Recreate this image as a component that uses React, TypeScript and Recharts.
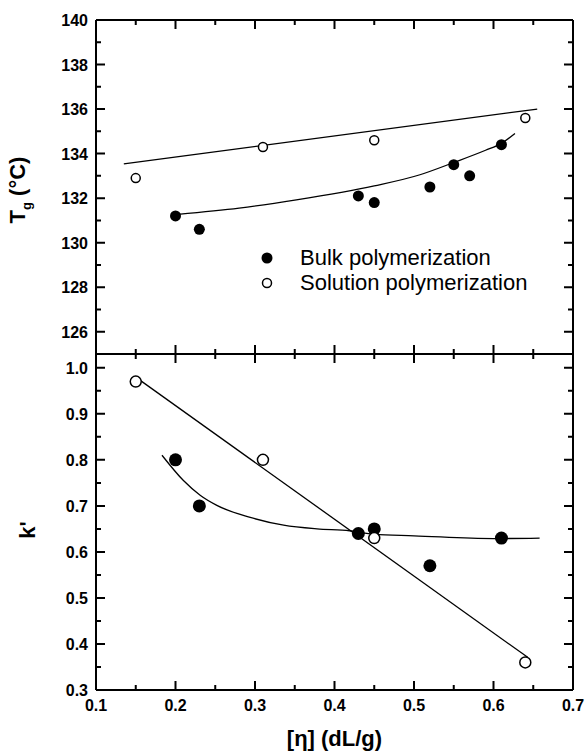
import React from 'react';
import { ComposedChart, Line, Scatter, XAxis, YAxis, Legend, ReferenceLine } from 'recharts';

const FONT = '"Liberation Sans", Arial, Helvetica, sans-serif';

// measured points, [η] in dL/g
const bulkEta = [0.2, 0.23, 0.43, 0.45, 0.52, 0.55, 0.57, 0.61];
const bulkTg = [131.2, 130.6, 132.1, 131.8, 132.5, 133.5, 133.0, 134.4];
const solEta = [0.15, 0.31, 0.45, 0.64];
const solTg = [132.9, 134.3, 134.6, 135.6];

const bulkKEta = [0.2, 0.23, 0.43, 0.45, 0.52, 0.61];
const bulkK = [0.8, 0.7, 0.64, 0.65, 0.57, 0.63];
const solK = [0.97, 0.8, 0.63, 0.36];

// fitted curves
const tgBulkFitEta = [0.203, 0.28, 0.352, 0.45, 0.5075, 0.55, 0.59, 0.61, 0.627];
const tgBulkFitTg = [131.27, 131.55, 131.92, 132.55, 133.05, 133.6, 134.15, 134.46, 134.9];
const tgSolFitEta = [0.135, 0.655];
const tgSolFitTg = [133.54, 136.0];

const kBulkFitEta = [0.183, 0.21, 0.231, 0.252, 0.294, 0.336, 0.378, 0.419, 0.45, 0.5, 0.6, 0.658];
const kBulkFitK = [0.81, 0.755, 0.723, 0.701, 0.675, 0.658, 0.65, 0.646, 0.638, 0.635, 0.629, 0.63];
const kSolFitEta = [0.153, 0.643];
const kSolFitK = [0.976, 0.371];

// ticks
const etaMajor = [0.1, 0.2, 0.3, 0.4, 0.5, 0.6, 0.7];
const etaMinor = [0.15, 0.25, 0.35, 0.45, 0.55, 0.65];
const tgMajor = [126, 128, 130, 132, 134, 136, 138, 140];
const tgMinor = [127, 129, 131, 133, 135, 137, 139];
const kMajor = [0.3, 0.4, 0.5, 0.6, 0.7, 0.8, 0.9, 1.0];
const kMinor = [0.35, 0.45, 0.55, 0.65, 0.75, 0.85, 0.95];

const seriesNames = ['Bulk polymerization', 'Solution polymerization'];

const zip = (xs: number[], ys: number[]) => xs.map((x, i) => ({ x, y: ys[i] }));

const etaDomain = [0.1, 0.7];
const tgDomain = [125, 140];
const kDomain = [0.3, 1.03];

const makeLabel = (side: 'left' | 'bottom', fmt: (v: number) => string) => (props: any) => {
  const x = Number(props.x);
  const y = Number(props.y);
  const v = Number(props.payload.value);
  if (side === 'left') {
    return (
      <text x={x - 8} y={y + 6} textAnchor="end" fontSize={16} fontWeight="bold" fontFamily={FONT} fill="#000">
        {fmt(v)}
      </text>
    );
  }
  return (
    <text x={x} y={y + 21} textAnchor="middle" fontSize={16} fontWeight="bold" fontFamily={FONT} fill="#000">
      {fmt(v)}
    </text>
  );
};

// inward notches at both ends of a reference line (used as axis tick marks)
const notch = (len: number, vertical: boolean) => (p: any) => {
  const x1 = Number(p.x1);
  const y1 = Number(p.y1);
  const x2 = Number(p.x2);
  const y2 = Number(p.y2);
  let d: string;
  if (vertical) {
    const top = Math.min(y1, y2);
    const bot = Math.max(y1, y2);
    d = `M${x1},${top}V${top + len}M${x1},${bot}V${bot - len}`;
  } else {
    const left = Math.min(x1, x2);
    const right = Math.max(x1, x2);
    d = `M${left},${y1}H${left + len}M${right},${y1}H${right - len}`;
  }
  return <path d={d} stroke="#000" strokeWidth={2} fill="none" />;
};

const tickMarks = (yMajor: number[], yMinor: number[]) => [
  ...etaMajor.map((v) => (
    <ReferenceLine key={`xj${v}`} x={v} ifOverflow="visible" stroke="#000" shape={notch(9, true)} />
  )),
  ...etaMinor.map((v) => (
    <ReferenceLine key={`xn${v}`} x={v} ifOverflow="visible" stroke="#000" shape={notch(5, true)} />
  )),
  ...yMajor.map((v) => (
    <ReferenceLine key={`yj${v}`} y={v} ifOverflow="visible" stroke="#000" shape={notch(9, false)} />
  )),
  ...yMinor.map((v) => (
    <ReferenceLine key={`yn${v}`} y={v} ifOverflow="visible" stroke="#000" shape={notch(5, false)} />
  )),
];

const filledDot = (r: number) => (props: any) => <circle cx={props.cx} cy={props.cy} r={r} fill="#000" />;
const openDot = (r: number) => (props: any) => (
  <circle cx={props.cx} cy={props.cy} r={r} fill="#fff" stroke="#000" strokeWidth={1.5} />
);

const TgLabel = (props: any) => {
  const vb = props.viewBox;
  const cx = vb.x + 25;
  const cy = vb.y + vb.height / 2 + 3;
  return (
    <text
      x={cx}
      y={cy}
      transform={`rotate(-90, ${cx}, ${cy})`}
      textAnchor="middle"
      fontSize={22}
      fontWeight="bold"
      fontFamily={FONT}
      fill="#000"
    >
      T
      <tspan dy={6} fontSize={13}>
        g
      </tspan>
      <tspan dy={-6}> (°C)</tspan>
    </text>
  );
};

const KLabel = (props: any) => {
  const vb = props.viewBox;
  const cx = vb.x + 27;
  const cy = vb.y + vb.height / 2 + 8;
  return (
    <text
      x={cx}
      y={cy}
      transform={`rotate(-90, ${cx}, ${cy})`}
      textAnchor="middle"
      dominantBaseline="central"
      fontSize={22}
      fontWeight="bold"
      fontFamily={FONT}
      fill="#000"
    >
      k'
    </text>
  );
};

const EtaLabel = (props: any) => {
  const vb = props.viewBox;
  return (
    <text
      x={vb.x + vb.width / 2}
      y={vb.y + 56}
      textAnchor="middle"
      fontSize={22}
      fontWeight="bold"
      fontFamily={FONT}
      fill="#000"
    >
      [η] (dL/g)
    </text>
  );
};

const LegendBox = () => (
  <div style={{ fontFamily: FONT, fontSize: 22, color: '#000' }}>
    {seriesNames.map((name, i) => (
      <div key={name} style={{ display: 'flex', alignItems: 'center', height: 25 }}>
        <svg width={14} height={14} style={{ marginRight: 26 }}>
          {i === 0 ? (
            <circle cx={7} cy={7} r={5.5} fill="#000" />
          ) : (
            <circle cx={7} cy={7} r={4.5} fill="#fff" stroke="#000" strokeWidth={1.5} />
          )}
        </svg>
        <span style={{ whiteSpace: 'nowrap' }}>{name}</span>
      </div>
    ))}
  </div>
);

const axisLine = { stroke: '#000', strokeWidth: 2 };
const fmtInt = (v: number) => String(Math.round(v));
const fmt1 = (v: number) => v.toFixed(1);

const frameX = {
  type: 'number' as const,
  dataKey: 'x',
  domain: etaDomain,
  allowDataOverflow: true,
  ticks: etaMajor,
  interval: 0 as const,
  tickSize: 0,
  tickMargin: 0,
  tickLine: false,
  axisLine,
};

const frameY = (domain: number[], ticks: number[]) => ({
  type: 'number' as const,
  dataKey: 'y',
  domain,
  allowDataOverflow: true,
  ticks,
  interval: 0 as const,
  tickSize: 0,
  tickMargin: 0,
  tickLine: false,
  axisLine,
});

export default function App() {
  return (
    <div style={{ position: 'absolute', left: 0, top: 0, width: 587, height: 752, background: '#fff' }}>
      <div style={{ position: 'absolute', left: 0, top: 0 }}>
        <ComposedChart width={587} height={360} margin={{ top: 19, right: 13, bottom: 5, left: 0 }}>
          <XAxis {...frameX} xAxisId={0} height={1} tick={false} />
          <XAxis {...frameX} xAxisId="top" orientation="top" height={1} tick={false} />
          <YAxis
            {...frameY(tgDomain, tgMajor)}
            yAxisId={0}
            width={96}
            tick={makeLabel('left', fmtInt)}
            label={<TgLabel />}
          />
          <YAxis {...frameY(tgDomain, tgMajor)} yAxisId="right" orientation="right" width={1} tick={false} />
          {tickMarks(tgMajor, tgMinor)}
          <Line
            data={zip(tgSolFitEta, tgSolFitTg)}
            dataKey="y"
            type="linear"
            stroke="#000"
            strokeWidth={1.3}
            dot={false}
            isAnimationActive={false}
            legendType="none"
          />
          <Line
            data={zip(tgBulkFitEta, tgBulkFitTg)}
            dataKey="y"
            type="monotone"
            stroke="#000"
            strokeWidth={1.3}
            dot={false}
            isAnimationActive={false}
            legendType="none"
          />
          <Scatter
            name={seriesNames[0]}
            data={zip(bulkEta, bulkTg)}
            dataKey="y"
            shape={filledDot(5.5)}
            isAnimationActive={false}
          />
          <Scatter
            name={seriesNames[1]}
            data={zip(solEta, solTg)}
            dataKey="y"
            shape={openDot(4.5)}
            isAnimationActive={false}
          />
          <Legend
            layout="vertical"
            align="center"
            verticalAlign="middle"
            content={<LegendBox />}
            wrapperStyle={{ left: 260, top: 245, width: 'auto', height: 'auto' }}
          />
        </ComposedChart>
      </div>

      <div style={{ position: 'absolute', left: 0, top: 348 }}>
        <ComposedChart width={587} height={404} margin={{ top: 5, right: 13, bottom: 0, left: 0 }}>
          <XAxis {...frameX} xAxisId={0} height={62} tick={makeLabel('bottom', fmt1)} label={<EtaLabel />} />
          <XAxis {...frameX} xAxisId="top" orientation="top" height={1} tick={false} />
          <YAxis
            {...frameY(kDomain, kMajor)}
            yAxisId={0}
            width={96}
            tick={makeLabel('left', fmt1)}
            label={<KLabel />}
          />
          <YAxis {...frameY(kDomain, kMajor)} yAxisId="right" orientation="right" width={1} tick={false} />
          {tickMarks(kMajor, kMinor)}
          <Line
            data={zip(kSolFitEta, kSolFitK)}
            dataKey="y"
            type="linear"
            stroke="#000"
            strokeWidth={1.3}
            dot={false}
            isAnimationActive={false}
          />
          <Line
            data={zip(kBulkFitEta, kBulkFitK)}
            dataKey="y"
            type="monotone"
            stroke="#000"
            strokeWidth={1.3}
            dot={false}
            isAnimationActive={false}
          />
          <Scatter data={zip(bulkKEta, bulkK)} dataKey="y" shape={filledDot(6.5)} isAnimationActive={false} />
          <Scatter data={zip(solEta, solK)} dataKey="y" shape={openDot(5.5)} isAnimationActive={false} />
        </ComposedChart>
      </div>
    </div>
  );
}
